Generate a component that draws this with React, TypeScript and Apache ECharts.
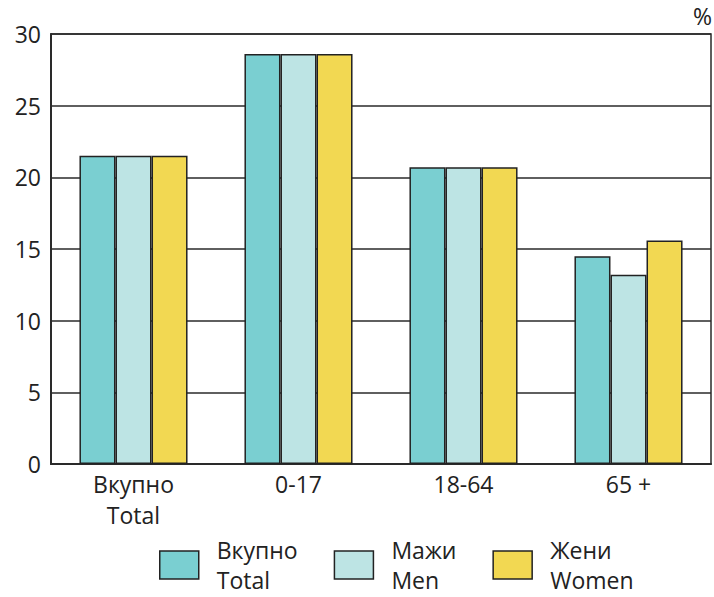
import React, { useEffect, useRef } from "react";
import * as echarts from "echarts";

const categories = ["Вкупно\nTotal", "0-17", "18-64", "65 +"];
const seriesNames = ["Вкупно\nTotal", "Мажи\nMen", "Жени\nWomen"];
const totalValues = [21.5, 28.6, 20.7, 14.5];
const menValues = [21.5, 28.6, 20.7, 13.2];
const womenValues = [21.5, 28.6, 20.7, 15.6];
const yTicks = { min: 0, max: 30, interval: 5 };
const unitLabel = "%";

const colors = ["#7ACFD1", "#BDE4E4", "#F2D852"];
const FONT = "Open Sans";
const FS = 23;

export default function App() {
  const ref = useRef<HTMLDivElement>(null);
  useEffect(() => {
    if (!ref.current) return;
    const chart = echarts.init(ref.current, undefined, { renderer: "svg" });
    const data = [totalValues, menValues, womenValues];
    chart.setOption({
      animation: false,
      backgroundColor: "#ffffff",
      grid: {
        left: 51,
        right: 3,
        top: 34,
        bottom: 133,
        show: true,
        borderColor: "#2a2a2a",
        borderWidth: 1.5,
        backgroundColor: "transparent",
      },
      graphic: [
        {
          type: "text",
          right: 2,
          top: 4,
          style: { text: unitLabel, fontSize: FS, fontFamily: FONT, fill: "#222" },
        },
      ],
      legend: {
        data: seriesNames,
        left: 154,
        top: 530,
        itemWidth: 39,
        itemHeight: 28,
        itemGap: 36,
        icon: "rect",
        textStyle: {
          fontSize: FS,
          fontFamily: FONT,
          color: "#222",
          lineHeight: 30,
          padding: [0, 0, 0, 13],
        },
        itemStyle: { borderColor: "#222", borderWidth: 1.5 },
      },
      xAxis: {
        type: "category",
        data: categories,
        axisLine: { show: true, lineStyle: { color: "#2a2a2a", width: 2 } },
        axisTick: { show: false },
        axisLabel: {
          fontSize: FS,
          fontFamily: FONT,
          color: "#222",
          lineHeight: 31,
          margin: 4,
        },
      },
      yAxis: {
        type: "value",
        min: yTicks.min,
        max: yTicks.max,
        interval: yTicks.interval,
        axisLine: { show: true, lineStyle: { color: "#2a2a2a", width: 2 } },
        axisTick: { show: false },
        splitLine: { show: true, lineStyle: { color: "#2a2a2a", width: 1.5 } },
        axisLabel: { fontSize: FS, fontFamily: FONT, color: "#222", margin: 10 },
      },
      series: seriesNames.map((name, i) => ({
        name,
        type: "bar",
        data: data[i],
        barGap: "0%",
        barCategoryGap: "34.5%",
        itemStyle: { color: colors[i], borderColor: "#222", borderWidth: 1.5 },
      })),
    });
    return () => chart.dispose();
  }, []);
  return (
    <div
      ref={ref}
      style={{ position: "absolute", left: 0, top: 0, width: 714, height: 597 }}
    />
  );
}
